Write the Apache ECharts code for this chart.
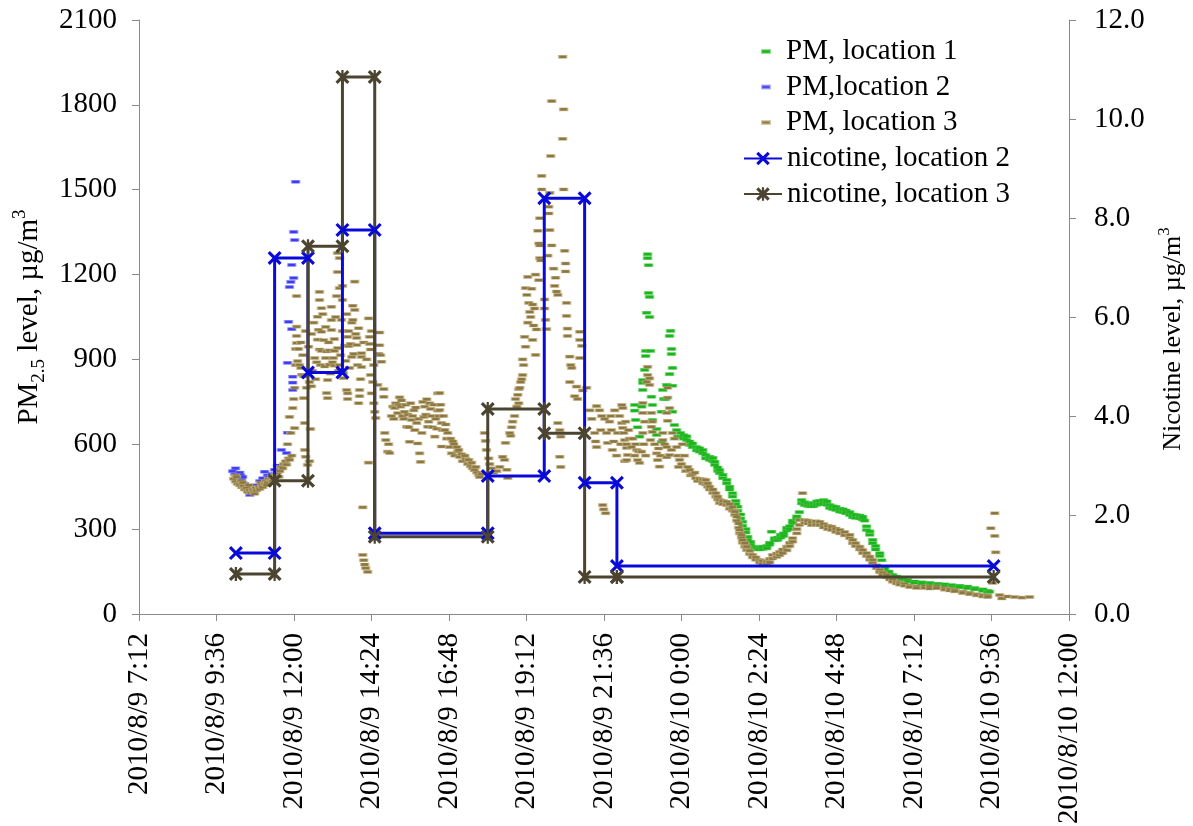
<!DOCTYPE html>
<html>
<head>
<meta charset="utf-8">
<script src="https://cdn.jsdelivr.net/npm/echarts@6/dist/echarts.min.js"></script>
<style>
  html, body { margin: 0; padding: 0; background: #ffffff; }
  #chart { width: 1193px; height: 826px; }
</style>
</head>
<body>
<div id="chart"></div>
<script>
// Time is expressed in hours counted from 2010/8/9 00:00 (values above 24 fall on 8/10).
const xAxisStart = 7.2;     // 2010/8/9 7:12
const xAxisEnd = 36;        // 2010/8/10 12:00
const xAxisStep = 2.4;      // 2 h 24 min between labels

const pmTicks = { min: 0, max: 2100, step: 300 };
const nicotineTicks = { min: 0, max: 12, step: 2 };

const seriesNames = ['PM, location 1', 'PM,location 2', 'PM, location 3', 'nicotine, location 2', 'nicotine, location 3'];

// PM2.5 readings, [hour, µg/m3]
const pmLocation1 = [
  [22.55,739],[22.55,719],[22.58,686],[22.64,660],[22.70,627],[22.77,733],[22.80,827],[22.80,817],[22.80,792],
  [22.86,863],[22.89,930],[22.89,912],[22.92,1065],[22.95,1272],[22.95,1258],[22.98,1233],[22.98,1135],
  [23.01,1121],[23.01,1050],[23.04,930],[23.07,768],[23.10,739],[23.10,686],[23.23,654],[23.23,633],
  [23.38,609],[23.38,715],[23.42,792],[23.45,760],[23.51,760],[23.54,810],[23.63,983],[23.63,848],[23.66,1001],
  [23.69,937],[23.69,919],[23.72,870],[23.72,807],[23.72,715],[23.78,668],[23.85,650],[23.88,627],
  [23.97,625],[23.97,640],[24.07,620],[24.07,632],[24.16,615],[24.16,628],[24.25,610],[24.25,598],
  [24.34,603],[24.34,590],[24.47,590],[24.47,578],[24.56,574],[24.56,586],[24.66,568],[24.66,580],
  [24.75,562],[24.75,550],[24.87,556],[24.87,545],[24.97,540],[24.97,552],[25.03,527],[25.03,538],
  [25.12,518],[25.12,506],[25.18,509],[25.18,498],[25.28,492],[25.28,480],[25.40,474],[25.40,462],
  [25.49,450],[25.49,440],[25.58,427],[25.58,415],[25.68,400],[25.68,388],[25.74,379],[25.74,365],
  [25.83,352],[25.83,338],[25.89,326],[25.89,312],[25.99,300],[25.99,288],[26.05,273],[26.05,262],
  [26.14,255],[26.14,245],[26.20,238],[26.20,230],[26.33,235],[26.33,228],[26.42,236],[26.42,228],
  [26.51,238],[26.51,230],[26.64,240],[26.64,232],[26.73,245],[26.73,252],[26.79,291],[26.88,268],[26.88,260],
  [26.98,262],[26.98,270],[27.07,270],[27.07,280],[27.16,285],[27.16,276],[27.26,295],[27.26,305],
  [27.35,310],[27.35,300],[27.44,321],[27.44,330],[27.57,335],[27.57,345],[27.65,360],[27.72,391],[27.72,403],
  [27.81,395],[27.81,385],[27.91,392],[27.91,382],[28.00,390],[28.00,380],[28.09,391],[28.09,381],
  [28.19,398],[28.19,386],[28.28,400],[28.28,388],[28.40,403],[28.40,390],[28.50,398],[28.50,386],
  [28.59,385],[28.59,375],[28.68,381],[28.68,371],[28.78,379],[28.78,368],[28.90,372],[28.90,362],
  [29.00,370],[29.00,360],[29.09,366],[29.09,356],[29.21,360],[29.21,350],[29.30,352],[29.30,342],
  [29.39,350],[29.39,340],[29.52,348],[29.52,338],[29.61,344],[29.61,334],[29.67,330],[29.73,297],[29.73,310],
  [29.83,280],[29.83,292],[29.92,262],[29.92,250],[30.01,240],[30.01,228],[30.14,215],[30.14,205],[30.20,190],
  [30.29,167],[30.29,158],[30.42,150],[30.42,142],[30.54,138],[30.54,132],[30.66,132],[30.66,126],
  [30.82,126],[30.82,120],[31.00,120],[31.00,114],[31.22,115],[31.22,110],[31.44,112],[31.44,106],
  [31.69,110],[31.69,104],[31.93,107],[31.93,101],[32.15,105],[32.15,99],[32.37,102],[32.37,96],
  [32.61,100],[32.61,94],[32.86,97],[32.86,91],[33.08,92],[33.08,87],[33.33,87],[33.33,82],[33.48,82],[33.48,78],[33.54,79]
];

const pmLocation2 = [
  [10.10,505],[10.16,495],[10.19,515],[10.25,480],[10.28,470],[10.32,500],[10.35,490],[10.38,475],[10.41,485],
  [10.47,460],[10.53,450],[10.63,421],[10.72,440],[10.81,455],[10.94,470],[11.03,480],[11.09,503],[11.18,490],
  [11.24,485],[11.31,495],[11.40,510],[11.49,525],[11.61,580],[11.77,569],[11.80,641],[11.80,888],[11.83,1033],
  [11.86,1156],[11.90,1174],[11.93,1007],[11.93,1234],[11.96,839],[11.96,818],[11.96,792],[11.99,1188],
  [11.99,1351],[12.02,1322],[12.05,1528]
];

const pmLocation3 = [
  [10.13,478],[10.19,468],[10.19,490],[10.22,485],[10.25,460],[10.32,455],[10.35,470],[10.38,448],[10.41,465],
  [10.44,452],[10.47,440],[10.53,445],[10.56,432],[10.60,455],[10.63,438],[10.66,428],[10.72,440],[10.75,432],
  [10.78,425],[10.81,445],[10.84,437],[10.91,450],[10.94,442],[10.97,465],[11.00,455],[11.03,448],[11.09,460],
  [11.12,470],[11.15,455],[11.18,465],[11.21,478],[11.28,472],[11.31,485],[11.34,470],[11.37,480],[11.40,492],
  [11.46,488],[11.49,500],[11.53,485],[11.56,505],[11.59,520],[11.65,515],[11.68,530],[11.74,540],
  [11.77,528],[11.83,550],[11.86,545],[11.93,560],
  [11.80,600],[11.86,697],[11.90,640],[11.96,728],[11.99,760],[12.02,657],[12.02,800],[12.05,880],[12.05,937],
  [12.08,983],[12.08,958],[12.08,1016],[12.08,1124],[12.11,894],[12.14,937],[12.17,880],
  [12.21,870],[12.21,960],[12.24,846],[12.27,915],[12.30,840],[12.30,763],[12.33,675],[12.33,580],[12.36,556],
  [12.36,1000],[12.39,800],[12.42,527],[12.45,945],[12.48,820],[12.48,540],[12.51,654],[12.54,805],[12.54,990],
  [12.57,860],[12.61,1030],[12.64,905],[12.67,830],[12.70,890],[12.73,1051],[12.73,970],[12.76,1005],
  [12.79,1139],[12.79,1110],[12.79,935],[12.82,880],[12.85,1081],[12.85,998],[12.85,930],[12.89,1060],[12.92,968],
  [12.95,875],[12.98,905],[12.98,1015],[13.01,781],[13.01,928],[13.04,827],[13.04,763],[13.07,960],[13.10,882],
  [13.10,932],[13.13,850],[13.16,1086],[13.16,1004],[13.16,1039],[13.19,890],[13.22,905],[13.25,972],[13.25,930],
  [13.25,878],[13.29,1050],[13.32,1124],[13.35,1276],[13.35,1209],[13.35,940],[13.38,860],[13.41,1258],[13.41,1152],
  [13.41,880],[13.44,915],[13.47,1040],[13.50,1160],[13.50,1110],[13.50,1000],[13.53,852],[13.53,834],[13.57,949],
  [13.60,895],[13.63,792],[13.63,1060],[13.66,980],[13.66,760],[13.66,780],[13.69,1000],[13.69,947],[13.72,870],
  [13.75,955],[13.79,1030],[13.79,909],[13.82,1090],[13.82,1040],[13.85,920],[13.88,1175],[13.88,1075],[13.91,990],
  [13.94,976],[13.94,951],[13.97,880],[14.00,745],[14.00,1010],[14.03,792],[14.03,770],[14.06,830],[14.09,922],
  [14.09,909],[14.09,873],[14.13,377],[14.13,209],[14.16,190],[14.16,960],[14.19,175],[14.22,162],[14.25,900],
  [14.28,149],[14.31,1045],[14.31,535],[14.34,980],[14.34,955],[14.37,935],[14.37,845],[14.40,780],[14.40,1000],
  [14.44,820],[14.47,745],[14.47,880],[14.50,715],
  [14.53,693],[14.59,810],[14.62,920],[14.65,995],[14.65,950],[14.68,915],[14.71,892],[14.78,795],[14.78,768],
  [14.81,640],[14.84,615],[14.90,574],[14.93,600],[14.96,569],[15.02,700],[15.06,733],[15.09,690],[15.12,728],
  [15.15,745],[15.21,710],[15.24,740],[15.27,766],[15.30,733],[15.33,755],[15.36,700],[15.40,690],[15.42,715],
  [15.46,740],[15.49,662],[15.52,705],[15.55,660],[15.58,609],[15.61,745],[15.64,686],[15.67,700],[15.71,720],
  [15.74,650],[15.77,730],[15.80,675],[15.83,603],[15.86,690],[15.89,568],[15.92,538],[15.96,640],[15.99,750],
  [16.02,697],[16.05,733],[16.08,705],[16.11,759],[16.14,662],[16.17,680],[16.20,745],[16.23,725],[16.26,700],
  [16.29,660],[16.33,740],[16.36,627],[16.39,690],[16.42,655],[16.45,780],[16.45,719],[16.48,700],[16.51,781],
  [16.51,721],[16.54,740],[16.57,675],[16.57,592],[16.60,650],[16.63,700],[16.67,650],[16.70,670],[16.73,620],
  [16.76,640],[16.82,590],[16.85,620],[16.88,568],[16.92,610],[16.95,600],[16.98,560],[17.04,590],[17.07,575],
  [17.10,580],[17.13,555],[17.19,565],[17.22,540],[17.29,560],[17.32,548],[17.38,530],[17.41,545],[17.47,522],
  [17.50,535],[17.53,515],[17.59,508],[17.63,520],[17.66,500],[17.72,492],[17.75,484],[17.81,495],
  [17.90,640],[17.93,612],[17.96,580],[18.03,550],[18.06,530],[18.12,515],[18.18,500],[18.28,505],[18.37,520],
  [18.46,556],[18.52,545],[18.55,605],[18.59,510],[18.62,481],[18.68,640],[18.71,630],[18.74,660],[18.77,680],
  [18.83,700],[18.86,760],[18.90,733],[18.93,775],[18.96,795],[18.96,745],[18.99,800],[19.02,820],[19.05,830],
  [19.08,845],[19.08,900],[19.11,880],[19.14,980],[19.17,945],[19.17,1152],[19.21,1128],[19.24,1192],[19.24,1030],
  [19.27,1100],[19.30,1068],[19.33,1050],[19.36,1150],[19.39,969],[19.39,1094],[19.42,1020],[19.45,1080],
  [19.48,916],[19.48,1200],[19.51,1006],[19.55,1355],[19.58,1310],[19.58,1180],[19.61,1399],[19.61,1303],
  [19.61,1258],[19.64,1250],[19.67,1549],[19.67,1501],[19.76,1112],[19.76,1080],[19.79,1040],[19.82,1007],
  [19.86,1267],[19.89,1440],[19.89,1416],[19.92,1489],[19.92,1357],[19.95,1619],[19.98,1813],[19.98,1303],
  [20.04,1221],[20.07,1160],[20.10,1189],[20.13,1140],[20.17,1128],[20.17,675],[20.23,650],[20.23,556],
  [20.26,627],[20.26,520],[20.32,1970],[20.32,1680],[20.35,1784],[20.35,1501],[20.38,1284],[20.41,1239],
  [20.41,1211],[20.44,1100],[20.44,1054],[20.47,1009],[20.47,983],[20.54,910],[20.54,820],[20.57,880],
  [20.60,870],[20.69,770],[20.75,804],[20.78,760],[20.85,998],[20.85,969],[20.85,905],[20.91,948],[20.94,790],
  [21.06,800],[21.16,720],[21.22,690],[21.31,640],[21.34,610],[21.37,735],[21.37,590],[21.46,720],
  [21.50,650],[21.53,700],[21.56,385],[21.59,370],[21.62,690],[21.65,356],[21.68,640],[21.71,605],[21.77,680],
  [21.81,700],[21.83,650],[21.86,580],[21.90,610],[21.93,720],[21.99,560],[22.02,640],[22.08,700],[22.12,600],
  [22.15,739],[22.15,675],[22.18,728],[22.18,658],[22.21,640],[22.24,615],[22.24,540],[22.27,680],[22.30,600],
  [22.30,587],[22.30,544],[22.33,562],[22.36,650],[22.39,620],[22.45,590],[22.49,620],[22.55,560],[22.58,600],
  [22.61,580],[22.64,544],[22.67,575],[22.70,534],[22.76,574],
  [22.80,746],[22.80,711],[22.80,640],[22.83,600],[22.86,680],[22.89,560],[22.92,821],[22.95,874],[22.95,845],
  [23.01,833],[23.01,810],[23.04,615],[23.07,711],[23.07,662],[23.10,680],[23.10,644],[23.17,600],[23.23,568],
  [23.26,544],[23.29,585],[23.32,521],[23.35,560],[23.42,640],[23.42,615],[23.48,600],[23.54,711],[23.54,590],
  [23.54,554],[23.57,800],[23.57,765],[23.57,683],[23.63,728],[23.63,562],[23.69,580],[23.72,640],[23.78,620],
  [23.85,590],[23.88,560],[23.91,520],[23.94,545],[24.00,530],[24.03,600],[24.09,560],[24.13,505],[24.19,520],
  [24.25,510],[24.28,490],[24.34,495],[24.41,500],[24.44,480],[24.50,470],[24.56,478],
  [24.66,476],[24.66,462],[24.75,474],[24.75,458],[24.81,462],[24.81,450],[24.87,450],[24.87,440],[24.97,440],
  [24.97,428],[25.06,427],[25.06,415],[25.12,415],[25.12,405],[25.18,403],[25.18,392],[25.28,400],[25.28,388],
  [25.40,397],[25.40,385],[25.49,388],[25.49,372],[25.58,379],[25.58,365],[25.65,362],[25.65,350],[25.71,344],
  [25.71,330],[25.77,320],[25.77,305],[25.80,297],[25.80,285],[25.86,280],[25.86,270],[25.89,262],[25.89,252],
  [25.96,250],[25.96,238],[26.02,238],[26.02,226],[26.11,224],[26.11,212],[26.20,209],[26.20,200],[26.30,200],
  [26.30,192],[26.42,191],[26.42,182],[26.51,188],[26.51,178],[26.64,185],[26.64,176],[26.73,195],[26.73,182],
  [26.82,209],[26.82,196],[26.95,214],[26.95,202],[27.04,220],[27.04,208],[27.13,228],[27.13,215],[27.26,238],
  [27.26,225],[27.35,252],[27.35,240],[27.44,268],[27.44,256],[27.57,300],[27.57,285],[27.65,332],[27.65,315],
  [27.75,427],[27.81,322],[27.81,332],[27.91,320],[27.91,330],[28.03,324],[28.03,314],[28.16,328],[28.16,316],
  [28.28,326],[28.28,314],[28.40,318],[28.40,306],[28.53,312],[28.53,300],[28.65,309],[28.65,297],[28.78,302],
  [28.78,290],[28.90,297],[28.90,285],[29.05,290],[29.05,278],[29.21,268],[29.21,280],[29.30,262],[29.30,250],
  [29.39,250],[29.39,240],[29.52,238],[29.52,228],[29.61,226],[29.61,215],[29.73,215],[29.73,205],[29.83,203],
  [29.83,192],[29.92,191],[29.92,180],[30.04,172],[30.04,162],[30.14,156],[30.14,148],[30.23,146],[30.23,138],
  [30.35,138],[30.35,130],[30.45,128],[30.45,122],[30.54,120],[30.54,114],[30.66,114],[30.66,108],[30.76,110],
  [30.76,104],[30.91,105],[30.91,100],[31.07,100],[31.07,95],[31.28,97],[31.28,92],[31.53,98],[31.53,92],
  [31.69,97],[31.69,90],[31.90,97],[31.90,91],[32.15,92],[32.15,86],[32.31,88],[32.31,83],[32.46,85],[32.46,80],
  [32.71,79],[32.71,74],[32.92,75],[32.92,70],[33.14,70],[33.14,66],[33.33,67],[33.33,62],[33.48,65],[33.48,60],
  [33.58,303],[33.64,110],[33.70,356],[33.70,276],[33.73,218],[33.85,67],[33.92,55],[34.10,62],[34.32,60],
  [34.54,58],[34.78,60]
];

// Nicotine sampling periods: consecutive boundaries and the level measured in each period (µg/m3)
const nicotinePeriods = ['2010/8/9 10:12', '2010/8/9 11:24', '2010/8/9 12:26', '2010/8/9 13:30', '2010/8/9 14:30',
  '2010/8/9 18:00', '2010/8/9 19:45', '2010/8/9 21:00', '2010/8/9 22:00', '2010/8/10 9:40'];
const nicotineLocation2 = [1.23, 7.19, 4.88, 7.76, 1.63, 2.79, 8.40, 2.65, 0.97];
const nicotineLocation3 = [0.81, 2.69, 7.43, 10.85, 1.56, 4.14, 3.65, 0.75, 0.75];

function toHours(stamp) {
  const [date, time] = stamp.split(' ');
  const day = Number(date.split('/')[2]);
  const [h, m] = time.split(':').map(Number);
  return (day - 9) * 24 + h + m / 60;
}

function formatStamp(hours) {
  const total = Math.round(hours * 60);
  const day = 9 + Math.floor(total / 1440);
  const rest = total % 1440;
  const h = Math.floor(rest / 60);
  const m = rest % 60;
  return '2010/8/' + day + ' ' + h + ':' + (m < 10 ? '0' + m : m);
}

// each period becomes a flat segment; consecutive periods join with a vertical step
function periodSteps(levels) {
  const pts = [];
  levels.forEach((v, i) => {
    pts.push([toHours(nicotinePeriods[i]), v]);
    pts.push([toHours(nicotinePeriods[i + 1]), v]);
  });
  return pts;
}

const serif = '"Liberation Serif", "Times New Roman", serif';
const axisGray = '#898989';
const crossMark = 'path://M0,1.6L1.6,0L10,8.4L8.4,10ZM8.4,0L10,1.6L1.6,10L0,8.4Z';
const starMark = 'path://M0,1.6L1.6,0L10,8.4L8.4,10ZM8.4,0L10,1.6L1.6,10L0,8.4ZM4.2,0L5.8,0L5.8,10L4.2,10Z';

const chart = echarts.init(document.getElementById('chart'), null, { renderer: 'canvas' });

const option = {
  animation: false,
  backgroundColor: '#ffffff',
  grid: { left: 139, right: 124, top: 20, bottom: 212, containLabel: false, outerBoundsMode: 'none' },
  legend: [
    {
      data: seriesNames.slice(0, 3),
      orient: 'vertical', left: 761, top: 35, padding: 0,
      itemWidth: 8, itemHeight: 3, itemGap: 2.5, selectedMode: false,
      textStyle: { fontFamily: serif, fontSize: 29, color: '#000', lineHeight: 33, padding: [0, 0, 0, 11] }
    },
    {
      data: seriesNames.slice(3),
      orient: 'vertical', left: 743, top: 142, padding: 0,
      itemWidth: 38, itemHeight: 17, itemGap: 2.5, selectedMode: false,
      textStyle: { fontFamily: serif, fontSize: 29, color: '#000', lineHeight: 33 }
    }
  ],
  xAxis: {
    type: 'value',
    min: xAxisStart, max: xAxisEnd, interval: xAxisStep,
    axisLine: { show: true, onZero: false, lineStyle: { color: axisGray, width: 1 } },
    axisTick: { show: true, inside: false, length: 7, lineStyle: { color: axisGray } },
    splitLine: { show: false },
    axisLabel: {
      rotate: 90, margin: 19, fontFamily: serif, fontSize: 29, color: '#000',
      formatter: v => formatStamp(v)
    }
  },
  yAxis: [
    {
      type: 'value', position: 'left',
      min: pmTicks.min, max: pmTicks.max, interval: pmTicks.step,
      axisLine: { show: true, lineStyle: { color: axisGray, width: 1 } },
      axisTick: { show: true, inside: false, length: 7, lineStyle: { color: axisGray } },
      splitLine: { show: false },
      axisLabel: { margin: 22, fontFamily: serif, fontSize: 29, color: '#000', formatter: v => String(v) },
      name: '{t|PM}{s|2.5}{t| level, µg/m}{p|3}',
      nameLocation: 'middle', nameRotate: 90, nameGap: 83,
      nameTextStyle: {
        color: '#000', fontFamily: serif,
        rich: {
          t: { fontFamily: serif, fontSize: 29, color: '#000', lineHeight: 38 },
          s: { fontFamily: serif, fontSize: 19, color: '#000', lineHeight: 19, verticalAlign: 'bottom' },
          p: { fontFamily: serif, fontSize: 19, color: '#000', lineHeight: 19, verticalAlign: 'top' }
        }
      }
    },
    {
      type: 'value', position: 'right',
      min: nicotineTicks.min, max: nicotineTicks.max, interval: nicotineTicks.step,
      axisLine: { show: true, lineStyle: { color: axisGray, width: 1 } },
      axisTick: { show: true, inside: false, length: 7, lineStyle: { color: axisGray } },
      splitLine: { show: false },
      axisLabel: { margin: 25, fontFamily: serif, fontSize: 29, color: '#000', formatter: v => v.toFixed(1) },
      name: '{t|Nicotine level, µg/m}{p|3}',
      nameLocation: 'middle', nameRotate: 90, nameGap: 84,
      nameTextStyle: {
        color: '#000', fontFamily: serif, padding: [0, 44, 0, 0],
        rich: {
          t: { fontFamily: serif, fontSize: 26, color: '#000', lineHeight: 36 },
          p: { fontFamily: serif, fontSize: 17, color: '#000', lineHeight: 17, verticalAlign: 'top' }
        }
      }
    }
  ],
  series: [
    {
      name: seriesNames[0], type: 'scatter', data: pmLocation1, silent: true,
      symbol: 'rect', symbolSize: [8, 3],
      itemStyle: { color: '#1cb41c', borderColor: 'rgba(70,200,70,0.55)', borderWidth: 1, opacity: 1 }
    },
    {
      name: seriesNames[1], type: 'scatter', data: pmLocation2, silent: true,
      symbol: 'rect', symbolSize: [8, 3],
      itemStyle: { color: '#3c3cf0', borderColor: 'rgba(130,130,255,0.55)', borderWidth: 1, opacity: 1 }
    },
    {
      name: seriesNames[2], type: 'scatter', data: pmLocation3, silent: true,
      symbol: 'rect', symbolSize: [8, 3],
      itemStyle: { color: '#8a7741', borderColor: 'rgba(195,175,125,0.65)', borderWidth: 1, opacity: 1 }
    },
    {
      name: seriesNames[3], type: 'line', yAxisIndex: 1, data: periodSteps(nicotineLocation2), silent: true,
      symbol: crossMark, symbolSize: 14, showAllSymbol: true,
      lineStyle: { color: '#0a0ad8', width: 3 },
      itemStyle: { color: '#0a0ad8' }
    },
    {
      name: seriesNames[4], type: 'line', yAxisIndex: 1, data: periodSteps(nicotineLocation3), silent: true,
      symbol: starMark, symbolSize: 14, showAllSymbol: true,
      lineStyle: { color: '#4a4430', width: 3 },
      itemStyle: { color: '#4a4430' }
    }
  ]
};

chart.setOption(option);
</script>
</body>
</html>
